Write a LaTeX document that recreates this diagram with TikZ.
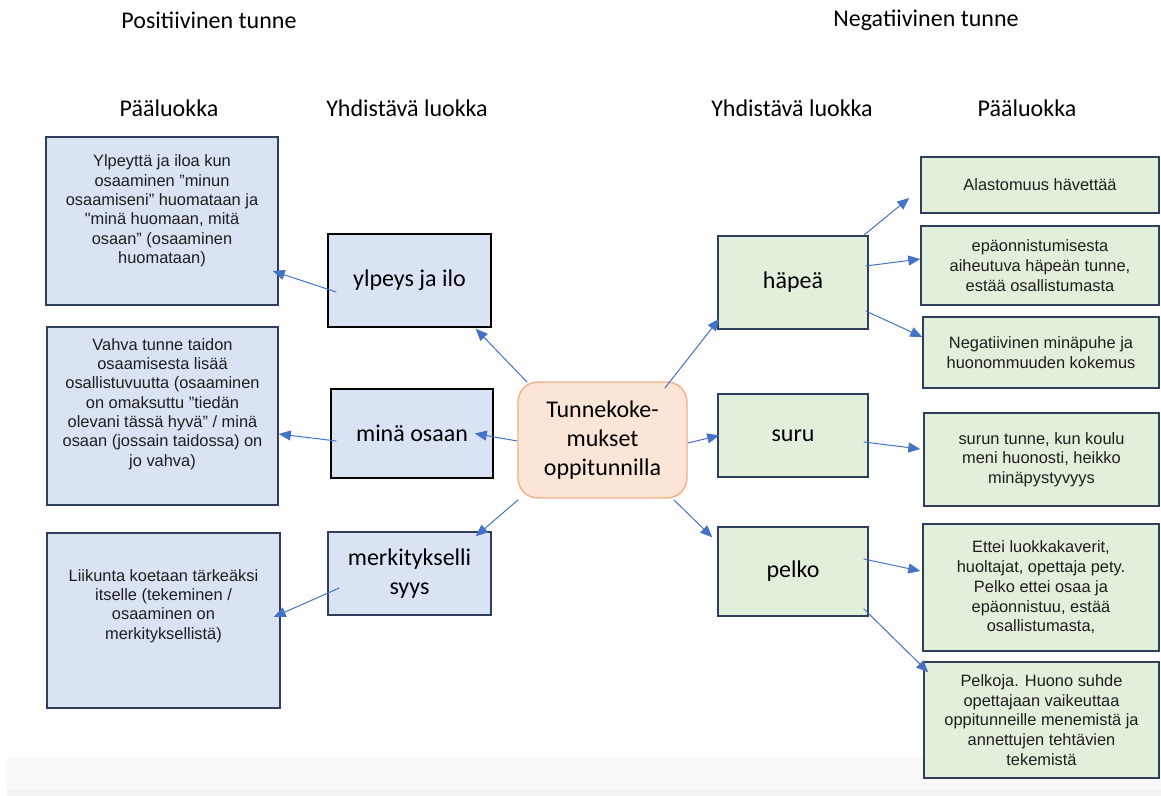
\documentclass[tikz,border=0pt]{standalone}
\usepackage{fontspec}
\newfontfamily\calibfont{Carlito}
\newfontfamily\arialfont{Liberation Sans}
\usetikzlibrary{arrows.meta,calc}

\definecolor{boxblue}{RGB}{218,227,243}
\definecolor{boxgreen}{RGB}{226,239,218}
\definecolor{boxrose}{RGB}{251,229,214}
\definecolor{roseline}{RGB}{244,177,131}
\definecolor{navyline}{RGB}{46,62,92}
\definecolor{arrowblue}{RGB}{68,114,196}
\definecolor{bandgray}{RGB}{249,249,249}
\definecolor{bandgraydark}{RGB}{243,243,243}
\definecolor{smallink}{RGB}{30,30,30}

\tikzset{every picture/.style={line width=0.75pt}}
\tikzset{
	headtext/.style={font=\calibfont\fontsize{18}{22}\selectfont},
	classbox/.style={draw=black, line width=1.1pt, inner sep=0pt, align=center,
		font=\calibfont\fontsize{18}{22}\selectfont},
	posclass/.style={classbox, fill=boxblue},
	negclass/.style={classbox, fill=boxgreen, draw=navyline},
	tunnebox/.style={classbox, fill=boxrose, draw=roseline, rounded corners=15pt},
	mainbox/.style={draw=navyline, line width=1.1pt, inner sep=0pt, align=center,
		text=smallink, font=\arialfont\fontsize{12.3}{14.8}\selectfont},
	posmainbox/.style={mainbox, fill=boxblue},
	negmainbox/.style={mainbox, fill=boxgreen},
	smalltext/.style={inner sep=0pt, align=center, text=smallink,
		font=\arialfont\fontsize{12.3}{14.5}\selectfont},
	conn/.style={draw=arrowblue, line width=0.75pt, -{Triangle[length=9pt,width=7.5pt]}}
}

\begin{document}
\begin{tikzpicture}[x=0.75pt,y=0.75pt,yscale=-1,xscale=1]
	\useasboundingbox (0,0) rectangle (1161,796);

	%Shape: Rectangle (grey strip at the bottom)
	\fill[bandgray] (7,757) rectangle (1161,789);
	\fill[bandgraydark] (7,789) rectangle (1161,796);

	% Text Node
	\node[headtext] (postitle) at (209,20) {Positiivinen tunne};
	% Text Node
	\node[headtext] (negtitle) at (926,20) {Negatiivinen tunne};
	% Text Node
	\node[headtext] (posmainhead) at (169,108) {Pääluokka};
	% Text Node
	\node[headtext] (posjoinhead) at (407,108) {Yhdistävä luokka};
	% Text Node
	\node[headtext] (negjoinhead) at (792,108) {Yhdistävä luokka};
	% Text Node
	\node[headtext] (negmainhead) at (1027,108) {Pääluokka};

	%Shape: Rounded Rect
	\node[tunnebox, minimum width=126.75pt, minimum height=87pt] (tunne) at (602.5,440) {Tunnekoke-\\mukset\\oppitunnilla};

	%Shape: Rectangle
	\node[posclass, minimum width=122.25pt, minimum height=69.75pt] (ylpeys) at (409.5,280.5) {ylpeys ja ilo};
	%Shape: Rectangle
	\node[posclass, minimum width=121.5pt, minimum height=66.75pt] (osaan) at (412,433.5) {minä osaan};
	%Shape: Rectangle
	\node[posclass, draw=navyline, minimum width=122.25pt, minimum height=62.25pt] (merkitys) at (409.5,573.5) {merkitykselli\\syys};

	%Shape: Rectangle
	\node[negclass, minimum width=112.5pt, minimum height=69.75pt] (hapea) at (793,282.5) {häpeä};
	%Shape: Rectangle
	\node[negclass, minimum width=112.5pt, minimum height=62.25pt] (suru) at (793,435.5) {suru};
	%Shape: Rectangle
	\node[negclass, minimum width=112.5pt, minimum height=66.75pt] (pelko) at (793,571.5) {pelko};

	%Shape: Rectangle
	\node[posmainbox, minimum width=174pt, minimum height=126pt] (posone) at (162,221) {};
	% Text Node
	\node[smalltext] (posonetxt) at (162,211) {Ylpeyttä ja iloa kun\\osaaminen ”minun\\osaamiseni” huomataan ja\\"minä huomaan, mitä\\osaan” (osaaminen\\huomataan)};
	%Shape: Rectangle
	\node[posmainbox, minimum width=173.25pt, minimum height=133.5pt] (postwo) at (162.5,416) {};
	% Text Node
	\node[smalltext] (postwotxt) at (162.5,404) {Vahva tunne taidon\\osaamisesta lisää\\osallistuvuutta (osaaminen\\on omaksuttu ”tiedän\\olevani tässä hyvä” / minä\\osaan (jossain taidossa) on\\jo vahva)};
	%Shape: Rectangle
	\node[posmainbox, minimum width=174.75pt, minimum height=131.25pt] (posthree) at (163.5,620.5) {};
	% Text Node
	\node[smalltext] (posthreetxt) at (163.5,606) {Liikunta koetaan tärkeäksi\\itselle (tekeminen /\\osaaminen on\\merkityksellistä)};

	%Shape: Rectangle
	\node[negmainbox, minimum width=178.5pt, minimum height=42pt] (alasto) at (1040,185) {Alastomuus hävettää};
	%Shape: Rectangle
	\node[negmainbox, minimum width=178.5pt, minimum height=59.25pt] (epaonni) at (1040,265.5) {epäonnistumisesta\\aiheutuva häpeän tunne,\\estää osallistumasta};
	%Shape: Rectangle
	\node[negmainbox, minimum width=177pt, minimum height=53.25pt] (minapuhe) at (1041,352.5) {Negatiivinen minäpuhe ja\\huonommuuden kokemus};
	%Shape: Rectangle
	\node[negmainbox, minimum width=176.25pt, minimum height=69.75pt] (suruntunne) at (1041.5,459.5) {surun tunne, kun koulu\\meni huonosti, heikko\\minäpystyvyys};
	%Shape: Rectangle
	\node[negmainbox, minimum width=177pt, minimum height=95.25pt] (ettei) at (1041,587.5) {Ettei luokkakaverit,\\huoltajat, opettaja pety.\\Pelko ettei osaa ja\\epäonnistuu, estää\\osallistumasta,};
	%Shape: Rectangle
	\node[negmainbox, minimum width=176.25pt, minimum height=87pt] (pelkoja) at (1041.5,720) {Pelkoja. Huono suhde\\opettajaan vaikeuttaa\\oppitunneille menemistä ja\\annettujen tehtävien\\tekemistä};

	% Arrows from the centre
	\draw[conn] ($(tunne.north west)+(10,1)$) -- ($(ylpeys.south east)+(-16,1)$);
	\draw[conn] ($(tunne.west)+(0,1)$) -- ($(osaan.east)+(-19,0)$);
	\draw[conn] ($(tunne.south west)+(1,1)$) -- ($(merkitys.north east)+(-16,5)$);
	\draw[conn] ($(tunne.north east)+(-23,7)$) -- ($(hapea.south west)+(2,-11)$);
	\draw[conn] ($(tunne.east)+(0,3)$) -- ($(suru.west)+(2,0)$);
	\draw[conn] ($(tunne.south east)+(-14,1)$) -- ($(pelko.north west)+(-5,11)$);

	% Arrows to the main classes
	\draw[conn] ($(ylpeys.west)+(9,11.5)$) -- ($(posone.east)+(-6,50)$);
	\draw[conn] ($(osaan.west)+(6,7.5)$) -- ($(postwo.east)+(0,18)$);
	\draw[conn] ($(merkitys.west)+(12,14.5)$) -- ($(posthree.east)+(-7,-3.5)$);
	\draw[conn] ($(hapea.north east)+(-5,0)$) -- ($(alasto.west)+(-11,13)$);
	\draw[conn] ($(hapea.east)+(-3,-16.5)$) -- ($(epaonni.west)+(0,-6.5)$);
	\draw[conn] ($(hapea.east)+(-3,28.5)$) -- ($(minapuhe.west)+(0,-15.5)$);
	\draw[conn] ($(suru.east)+(-5,6.5)$) -- ($(suruntunne.west)+(-3,-10.5)$);
	\draw[conn] ($(pelko.east)+(-5,-12.5)$) -- ($(ettei.west)+(-2,-16.5)$);
	\draw[conn] ($(pelko.south east)+(-5,-8)$) -- ($(pelkoja.north west)+(5,11)$);

\end{tikzpicture}
\end{document}
